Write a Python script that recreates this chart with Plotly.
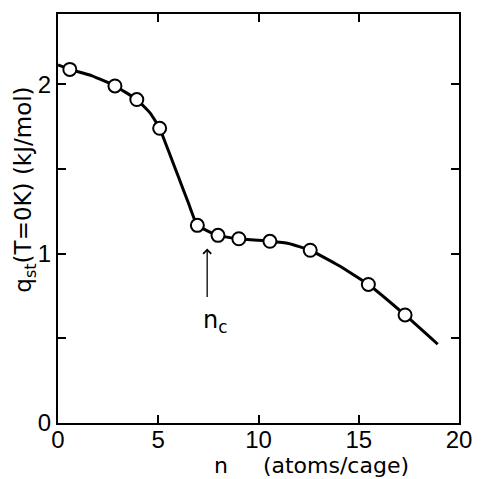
import plotly.graph_objects as go

# measured points
n_pts = [0.59, 2.84, 3.93, 5.07, 6.95, 7.98, 9.02, 10.57, 12.58, 15.48, 17.31]
q_pts = [2.088, 1.99, 1.91, 1.74, 1.167, 1.108, 1.088, 1.073, 1.02, 0.818, 0.638]

# smooth guide curve
n_curve = [0.0, 0.59, 1.7, 2.84, 3.93, 4.6, 5.07, 5.5, 6.0, 6.5, 6.95, 7.98, 9.02, 10.57, 11.5, 12.58, 14.0, 15.48, 17.31, 18.94]
q_curve = [2.114, 2.088, 2.05, 1.99, 1.91, 1.83, 1.74, 1.61, 1.455, 1.30, 1.167, 1.108, 1.088, 1.073, 1.06, 1.02, 0.93, 0.818, 0.638, 0.465]

x_ticks = [0, 5, 10, 15, 20]
y_ticks = [0, 1, 2]
y_minor_ticks = [0.5, 1.5]

tfont = "DejaVu Sans"
nfont = "Liberation Sans Narrow, Liberation Sans"

W, H = 484, 479
L, R, T, B = 58, 18, 12, 56
pw, ph = W - L - R, H - T - B


def px(x):
    return (x - L) / pw


def py(y):
    return (H - y - B) / ph


fig = go.Figure()
fig.add_trace(go.Scatter(x=n_curve, y=q_curve, mode="lines",
                         line=dict(color="black", width=3, shape="spline", smoothing=0.4),
                         hoverinfo="skip", showlegend=False))
fig.add_trace(go.Scatter(x=n_pts, y=q_pts, mode="markers",
                         marker=dict(size=13, color="white", line=dict(color="black", width=2)),
                         showlegend=False))

# arrow for n_c
fig.add_annotation(x=7.44, y=1.03, ax=7.44, ay=0.735, xref="x", yref="y", axref="x", ayref="y",
                   text="", showarrow=True, arrowhead=4, arrowsize=1.2, arrowwidth=1.3, arrowcolor="black")
fig.add_annotation(x=7.85, y=0.6, xref="x", yref="y", text="n<sub>c</sub>", showarrow=False,
                   xanchor="center", yanchor="middle",
                   font=dict(family=tfont, size=24, color="black"))

# axis titles
fig.add_annotation(x=px(25), y=py(189), xref="paper", yref="paper",
                   text="q<sub>st</sub>(T=0K) (kJ/mol)", xanchor="center", yanchor="middle",
                   showarrow=False, textangle=-90, font=dict(family=tfont, size=23, color="black"))
fig.add_annotation(x=px(316), y=py(466), xref="paper", yref="paper",
                   text="n&nbsp;&nbsp;&nbsp;&nbsp;&nbsp;(atoms/cage)", xanchor="center", yanchor="middle",
                   showarrow=False, font=dict(family=tfont, size=22, color="black"))

fig.update_layout(
    width=W, height=H, margin=dict(l=L, r=R, t=T, b=B),
    plot_bgcolor="white", paper_bgcolor="white",
    font=dict(family=nfont, size=24, color="black"),
)
fig.update_xaxes(range=[0, 20], tickvals=x_ticks, ticks="inside", ticklen=8, tickwidth=2,
                 tickcolor="black", showline=True, linecolor="black", linewidth=2, mirror="ticks",
                 showgrid=False, zeroline=False, ticklabelstandoff=-6,
                 tickfont=dict(family=nfont, size=24, color="black"))
fig.update_yaxes(range=[0, 2.415], tickvals=y_ticks, ticks="inside", ticklen=8,
                 tickwidth=2, tickcolor="black", showline=True, linecolor="black", linewidth=2,
                 mirror="ticks", showgrid=False, zeroline=False,
                 minor=dict(tickvals=y_minor_ticks, ticks="inside", ticklen=8, tickwidth=2,
                            tickcolor="black", showgrid=False),
                 tickfont=dict(family=nfont, size=24, color="black"))

fig.write_html("out.html")
